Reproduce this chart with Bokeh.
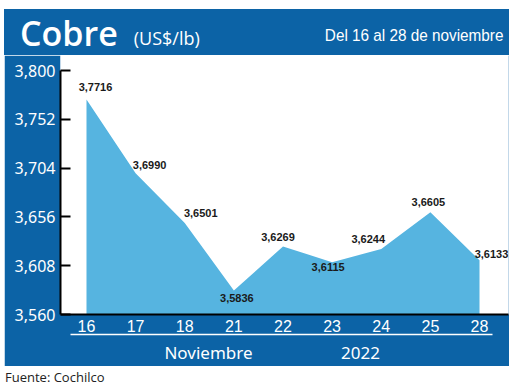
from bokeh.plotting import figure
from bokeh.models import (Range1d, FixedTicker, CustomJSTickFormatter, LinearAxis,
                          ColumnDataSource, Div)
from bokeh.layouts import column
from bokeh.embed import file_html
from bokeh.resources import INLINE
from bokeh.core.properties import value

# ---- data ----
days = ["16", "17", "18", "21", "22", "23", "24", "25", "28"]
prices = [3.7716, 3.6990, 3.6501, 3.5836, 3.6269, 3.6115, 3.6244, 3.6605, 3.6133]
y_ticks = [3.560, 3.608, 3.656, 3.704, 3.752, 3.800]
group_labels = ["Noviembre", "2022"]
title_text = "Cobre"
unit_text = "(US$/lb)"
period_text = "Del 16 al 28 de noviembre"
source_text = "Fuente: Cochilco"

BLUE = "#0C63A6"
AREA = "#56B4E0"

idx = list(range(len(days)))
price_labels = [f"{v:.4f}".replace(".", ",") for v in prices]

# ---------------- header bar (HTML) ----------------
header_html = f"""
<div style="position:relative;width:505px;height:46px;background:{BLUE};color:white;">
  <div style="position:absolute;left:16px;top:2px;height:44px;line-height:44px;white-space:nowrap;font-family:'Open Sans';">
    <span style="font-size:34px;font-weight:600;">{title_text}</span><span
      style="font-size:18px;vertical-align:1px;margin-left:16px;">{unit_text}</span>
  </div>
  <div style="position:absolute;right:6px;top:12px;height:30px;line-height:30px;white-space:nowrap;font-family:'Liberation Sans';font-size:17px;transform:scaleX(0.9);transform-origin:right center;">{period_text}</div>
</div>"""
hdr = Div(text=header_html, width=505, height=46, margin=0)

# ---------------- main chart ----------------
# label offsets in screen px (dx right, dy up)
dx = [9, 14, 16, 3, -5, -4, -13, -2, 12]
dy = [12, 8, 10, -7, 9, -5, 10, 10, 6]

src = ColumnDataSource(dict(x=idx, y=prices, base=[y_ticks[0]] * len(idx),
                            lab=price_labels, xo=dx, yo=[-d for d in dy]))

p = figure(frame_width=448, frame_height=259, output_backend="svg",
           toolbar_location=None,
           x_range=Range1d(-0.529, 8.59), y_range=Range1d(3.560, 3.8148),
           min_border_left=56, min_border_right=1, min_border_top=0,
           min_border_bottom=51, margin=0)
p.border_fill_color = BLUE
p.background_fill_color = "white"
p.outline_line_color = None
p.grid.visible = False

p.varea(x="x", y1="base", y2="y", source=src, fill_color=AREA)
p.text(x="x", y="y", text="lab", source=src, x_offset="xo", y_offset="yo",
       text_align="center", text_baseline="middle",
       text_font=value("Liberation Sans"), text_font_size="11px",
       text_font_style="bold", text_color="#1a1a1a")

# y axis
ya = p.yaxis[0]
ya.ticker = FixedTicker(ticks=y_ticks)
ya.formatter = CustomJSTickFormatter(code="return tick.toFixed(3).replace('.', ',');")
ya.bounds = (y_ticks[0], y_ticks[-1])
ya.axis_line_color = "black"
ya.axis_line_width = 2
ya.major_tick_line_color = "black"
ya.major_tick_line_width = 2
ya.major_tick_in = 10
ya.major_tick_out = 0
ya.minor_tick_line_color = None
ya.major_label_standoff = 5
ya.major_label_text_color = "white"
ya.major_label_text_font = "Noto Sans"
ya.major_label_text_font_size = "16px"

# x axis (days)
xa = p.xaxis[0]
xa.ticker = FixedTicker(ticks=idx)
xa.major_label_overrides = {i: d for i, d in zip(idx, days)}
xa.axis_line_color = "black"
xa.axis_line_width = 2
xa.major_tick_line_color = None
xa.minor_tick_line_color = None
xa.major_tick_in = 0
xa.major_tick_out = 0
xa.major_label_standoff = 5
xa.major_label_text_color = "white"
xa.major_label_text_font = "Liberation Sans"
xa.major_label_text_font_size = "16px"

# second x axis: month / year group labels with white rule
group_pos = [2.4835, 5.578]
ga = LinearAxis(ticker=FixedTicker(ticks=group_pos),
                major_label_overrides={g: t for g, t in zip(group_pos, group_labels)},
                bounds=(-0.326, 8.265))
ga.axis_line_color = "white"
ga.axis_line_width = 1.5
ga.major_tick_line_color = None
ga.minor_tick_line_color = None
ga.major_tick_in = 0
ga.major_tick_out = 0
ga.major_label_standoff = 6
ga.major_label_text_color = "white"
ga.major_label_text_font = "Noto Sans"
ga.major_label_text_font_size = "17px"
p.add_layout(ga, "below")

src_div = Div(text=source_text, width=300, height=22, margin=0,
              styles={"font-family": "Open Sans", "font-size": "13px", "color": "#222",
                      "margin-left": "1px", "padding-top": "2px"})

layout = column(hdr, p, src_div, spacing=0,
                styles={"margin-left": "4px", "margin-top": "9px"})
open("out.html", "w").write(file_html(layout, INLINE))
